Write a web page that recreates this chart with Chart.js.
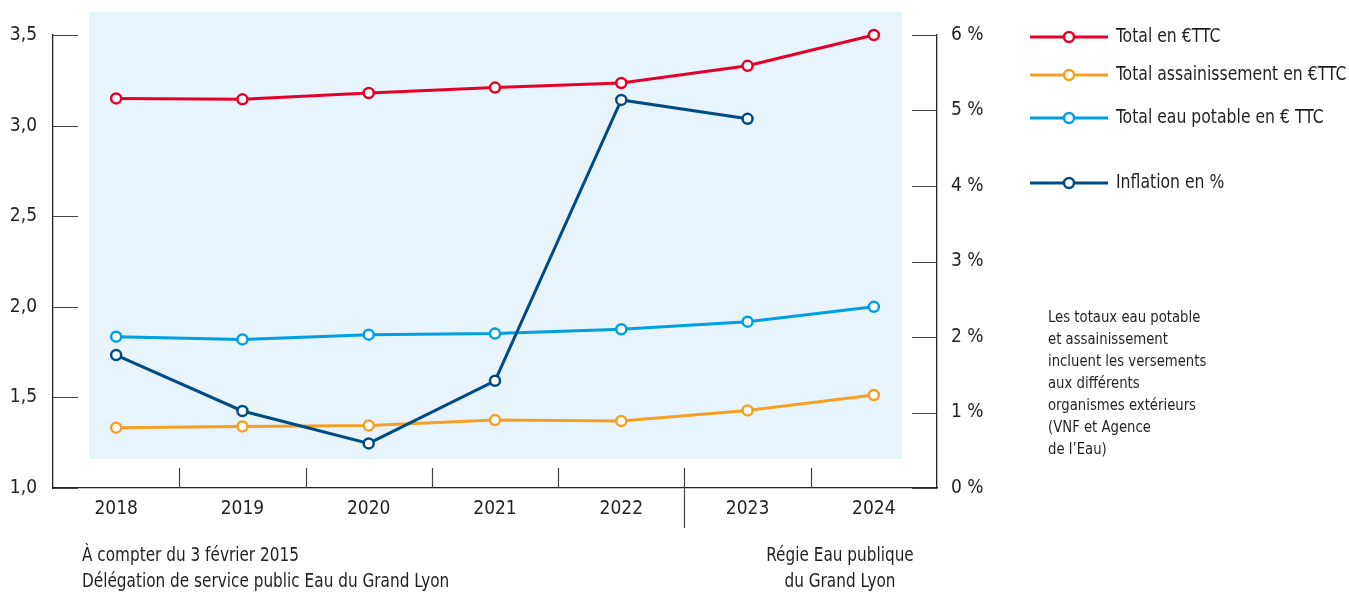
<!DOCTYPE html>
<html lang="fr">
<head>
<meta charset="utf-8">
<script src="https://cdn.jsdelivr.net/npm/chart.js@4.4.1/dist/chart.umd.min.js"></script>
<style>
  html, body { margin: 0; padding: 0; background: #fff; }
  #wrap { width: 1349px; height: 593px; position: relative; }
</style>
</head>
<body>
<div id="wrap"><canvas id="prixEau" width="1349" height="593"></canvas></div>
<script>
const FONT = '"Liberation Sans Narrow", "DejaVu Sans Condensed", Roboto, sans-serif';
const INK = '#231f20';

// data -------------------------------------------------
const years = ['2018', '2019', '2020', '2021', '2022', '2023', '2024'];
const totalTTC = [3.15, 3.145, 3.18, 3.21, 3.235, 3.33, 3.50];
const assainissement = [1.333, 1.34, 1.345, 1.375, 1.37, 1.428, 1.513];
const eauPotable = [1.835, 1.82, 1.846, 1.852, 1.876, 1.918, 2.0];
const inflation = [1.76, 1.02, 0.59, 1.42, 5.14, 4.89, null];

const noteLines = [
  'Les totaux eau potable',
  'et assainissement',
  'incluent les versements',
  'aux différents',
  'organismes extérieurs',
  '(VNF et Agence',
  'de l\u2019Eau)'
];
const periodeDSP = ['À compter du 3 février 2015', 'Délégation de service public Eau du Grand Lyon'];
const periodeRegie = ['Régie Eau publique', 'du Grand Lyon'];

function serie(label, data, color, axis, order) {
  return {
    label: label,
    data: data,
    yAxisID: axis,
    borderColor: color,
    backgroundColor: '#fff',
    borderWidth: 3,
    pointRadius: 5,
    pointBorderWidth: 2.5,
    pointBackgroundColor: '#fff',
    pointBorderColor: color,
    tension: 0,
    spanGaps: false,
    clip: false,
    order: order,
  };
}

// narrow text: the condensed face of the original is not installed
function narrowText(ctx, text, x, y, sx, align) {
  ctx.save();
  ctx.translate(x, y);
  ctx.scale(sx, 1);
  ctx.textAlign = align || 'left';
  ctx.fillText(text, 0, 0);
  ctx.restore();
}

// decor: background box, tick marks, legend and notes
const decor = {
  id: 'decor',
  beforeDraw(chart) {
    const ctx = chart.ctx;
    ctx.save();
    ctx.fillStyle = '#e8f4fc';
    ctx.fillRect(89, 12, 813, 447);
    ctx.restore();
  },
  beforeDatasetsDraw(chart) {
    const {ctx, chartArea, scales} = chart;
    ctx.save();
    ctx.strokeStyle = '#444';
    ctx.lineWidth = 1.2;
    ctx.beginPath();
    scales.y.ticks.forEach(t => {
      const y = Math.round(scales.y.getPixelForValue(t.value)) + 0.5;
      ctx.moveTo(chartArea.left, y);
      ctx.lineTo(chartArea.left + 25, y);
    });
    scales.y1.ticks.forEach(t => {
      const y = Math.round(scales.y1.getPixelForValue(t.value)) + 0.5;
      ctx.moveTo(chartArea.right - 25, y);
      ctx.lineTo(chartArea.right, y);
    });
    for (let i = 1; i < years.length; i++) {
      const x = Math.round((scales.x.getPixelForValue(i - 1) + scales.x.getPixelForValue(i)) / 2) + 0.5;
      ctx.moveTo(x, chartArea.bottom - 20);
      ctx.lineTo(x, years[i] === '2023' ? chartArea.bottom + 40 : chartArea.bottom);
    }
    ctx.stroke();
    ctx.restore();
  },
  afterDraw(chart) {
    const ctx = chart.ctx;
    ctx.save();
    ctx.textBaseline = 'middle';
    // legend
    const rows = [37, 75, 118, 183];
    chart.data.datasets.forEach((ds, i) => {
      const y = rows[i];
      ctx.strokeStyle = ds.borderColor;
      ctx.lineWidth = 3;
      ctx.beginPath();
      ctx.moveTo(1030, y);
      ctx.lineTo(1108, y);
      ctx.stroke();
      ctx.beginPath();
      ctx.arc(1069, y, 5, 0, Math.PI * 2);
      ctx.fillStyle = '#fff';
      ctx.fill();
      ctx.lineWidth = 2.5;
      ctx.stroke();
      ctx.fillStyle = INK;
      ctx.font = '20px ' + FONT;
      narrowText(ctx, ds.label, 1116, y, 0.87);
    });
    // note
    ctx.font = '16px ' + FONT;
    noteLines.forEach((t, i) => narrowText(ctx, t, 1048, 318 + i * 22, 0.92));
    // period labels
    ctx.font = '20px ' + FONT;
    periodeDSP.forEach((t, i) => narrowText(ctx, t, 82, 556 + i * 26, 0.85));
    periodeRegie.forEach((t, i) => narrowText(ctx, t, 840, 556 + i * 26, 0.85, 'center'));
    ctx.restore();
  }
};

const ctx = document.getElementById('prixEau').getContext('2d');
new Chart(ctx, {
  type: 'line',
  data: {
    labels: years,
    datasets: [
      serie('Total en €TTC', totalTTC, '#e4002b', 'y', 2),
      serie('Total assainissement en €TTC', assainissement, '#f5a024', 'y', 3),
      serie('Total eau potable en € TTC', eauPotable, '#009fe3', 'y', 1),
      serie('Inflation en %', inflation, '#004b84', 'y1', 0),
    ],
  },
  options: {
    responsive: false,
    animation: false,
    layout: { padding: { top: 35, right: 352, left: 0, bottom: 0 } },
    plugins: {
      legend: { display: false },
      tooltip: { enabled: false },
    },
    scales: {
      x: {
        offset: true,
        grid: { display: false, drawTicks: false },
        border: { display: true, color: '#222', width: 1.3 },
        ticks: { color: INK, font: { family: FONT, size: 19 }, padding: 10, maxRotation: 0 },
        afterFit: (s) => { s.height = 105; },
      },
      y: {
        position: 'left',
        min: 1, max: 3.5,
        grid: { display: false, drawTicks: false },
        border: { display: true, color: '#222', width: 1.3 },
        ticks: {
          stepSize: 0.5, padding: 16, color: INK,
          font: { family: FONT, size: 19 },
          callback: (v) => v.toFixed(1).replace('.', ','),
        },
        afterFit: (s) => { s.width = 53; },
      },
      y1: {
        position: 'right',
        min: 0, max: 6,
        grid: { display: false, drawTicks: false },
        border: { display: true, color: '#222', width: 1.3 },
        ticks: {
          stepSize: 1, padding: 14, color: INK,
          font: { family: FONT, size: 19 },
          callback: (v) => v + ' %',
        },
        afterFit: (s) => { s.width = 60; },
      },
    },
  },
  plugins: [decor],
});
</script>
</body>
</html>
